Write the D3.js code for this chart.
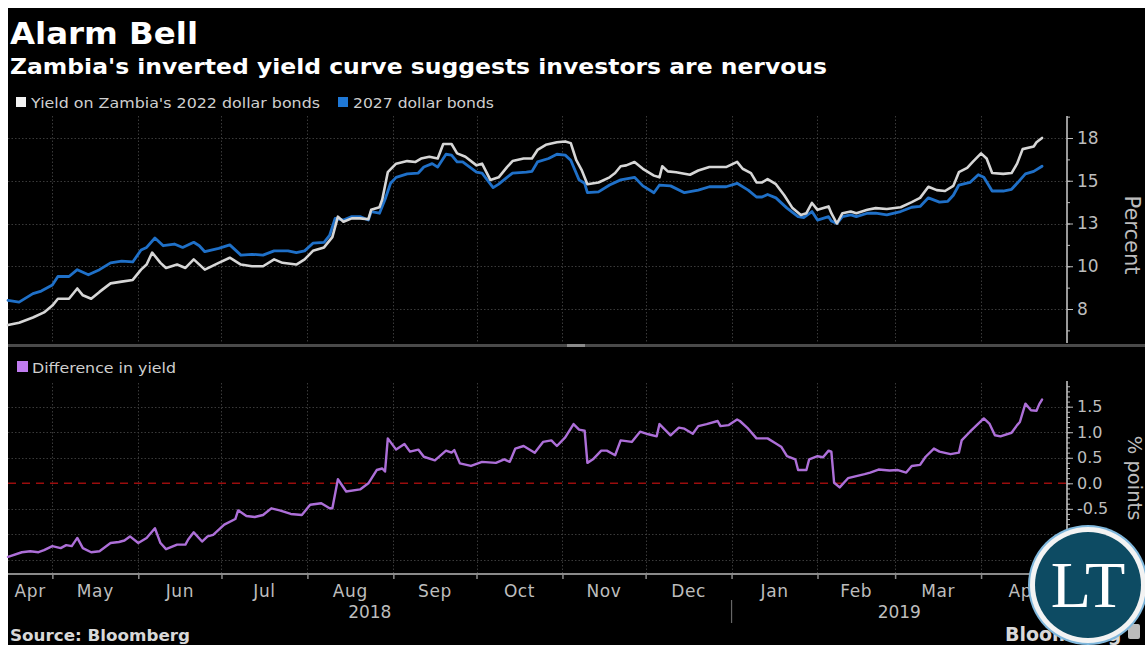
<!DOCTYPE html>
<html><head><meta charset="utf-8">
<script src="https://cdn.jsdelivr.net/npm/d3@7"></script>
<style>
html,body{margin:0;padding:0;background:#fff;}
svg{display:block;}
</style></head><body>
<svg id="c" width="1145" height="645"></svg>
<script>
// ---------- DATA ----------
const dates2022 = ["2018-04-15","2018-04-19","2018-04-24","2018-04-28","2018-05-01","2018-05-03","2018-05-07","2018-05-10","2018-05-12","2018-05-15","2018-05-18","2018-05-22","2018-05-26","2018-05-30","2018-06-02","2018-06-04","2018-06-06","2018-06-09","2018-06-11","2018-06-15","2018-06-18","2018-06-21","2018-06-25","2018-06-30","2018-07-04","2018-07-08","2018-07-12","2018-07-16","2018-07-20","2018-07-23","2018-07-28","2018-07-31","2018-08-03","2018-08-07","2018-08-10","2018-08-12","2018-08-14","2018-08-17","2018-08-20","2018-08-23","2018-08-24","2018-08-27","2018-08-28","2018-08-30","2018-09-02","2018-09-06","2018-09-09","2018-09-11","2018-09-14","2018-09-17","2018-09-19","2018-09-22","2018-09-24","2018-09-27","2018-10-01","2018-10-03","2018-10-06","2018-10-09","2018-10-12","2018-10-14","2018-10-18","2018-10-21","2018-10-23","2018-10-26","2018-10-30","2018-11-02","2018-11-04","2018-11-06","2018-11-08","2018-11-10","2018-11-14","2018-11-18","2018-11-20","2018-11-22","2018-11-24","2018-11-27","2018-11-30","2018-12-04","2018-12-06","2018-12-07","2018-12-09","2018-12-12","2018-12-17","2018-12-20","2018-12-24","2018-12-26","2018-12-30","2019-01-03","2019-01-05","2019-01-08","2019-01-10","2019-01-12","2019-01-14","2019-01-17","2019-01-20","2019-01-23","2019-01-26","2019-01-28","2019-01-30","2019-02-01","2019-02-05","2019-02-06","2019-02-08","2019-02-10","2019-02-13","2019-02-15","2019-02-19","2019-02-22","2019-02-26","2019-03-03","2019-03-07","2019-03-10","2019-03-13","2019-03-16","2019-03-19","2019-03-22","2019-03-24","2019-03-27","2019-03-29","2019-04-01","2019-04-03","2019-04-05","2019-04-09","2019-04-12","2019-04-14","2019-04-16","2019-04-20","2019-04-21","2019-04-23"];
const yield2022 = [6.56,6.7,7.0,7.3,7.7,8.1,8.1,8.7,8.3,8.1,8.5,9.0,9.1,9.2,9.8,10.1,10.8,10.2,9.9,10.1,9.9,10.4,9.8,10.2,10.5,10.1,10.0,10.0,10.4,10.2,10.1,10.4,10.9,11.1,11.7,12.9,12.6,12.8,12.8,12.75,13.3,13.45,13.9,15.5,16.0,16.15,16.1,16.3,16.4,16.3,17.15,17.15,16.6,16.4,15.9,16.0,15.05,15.2,15.8,16.15,16.3,16.3,16.8,17.1,17.25,17.3,17.2,16.2,15.6,14.8,14.9,15.2,15.45,15.85,15.9,16.1,15.7,15.3,15.2,15.85,15.55,15.5,15.35,15.6,15.8,15.8,15.8,16.1,15.7,15.45,14.9,14.9,15.1,14.8,14.15,13.4,13.0,13.1,13.7,13.3,13.5,13.1,12.5,13.1,13.2,13.1,13.3,13.4,13.35,13.45,13.75,14.0,14.65,14.45,14.4,14.7,15.5,15.75,16.1,16.6,16.3,15.45,15.4,15.45,16.0,16.85,17.0,17.25,17.5];

const dates2027 = ["2018-04-15","2018-04-19","2018-04-24","2018-04-27","2018-05-01","2018-05-03","2018-05-07","2018-05-10","2018-05-14","2018-05-18","2018-05-22","2018-05-26","2018-05-30","2018-06-02","2018-06-04","2018-06-07","2018-06-10","2018-06-14","2018-06-17","2018-06-21","2018-06-23","2018-06-25","2018-06-30","2018-07-04","2018-07-08","2018-07-12","2018-07-16","2018-07-20","2018-07-25","2018-07-28","2018-07-31","2018-08-03","2018-08-07","2018-08-09","2018-08-11","2018-08-14","2018-08-17","2018-08-20","2018-08-23","2018-08-24","2018-08-27","2018-08-29","2018-08-31","2018-09-02","2018-09-06","2018-09-10","2018-09-12","2018-09-15","2018-09-17","2018-09-20","2018-09-22","2018-09-24","2018-09-26","2018-10-01","2018-10-03","2018-10-07","2018-10-09","2018-10-12","2018-10-14","2018-10-19","2018-10-21","2018-10-23","2018-10-27","2018-10-30","2018-11-02","2018-11-04","2018-11-07","2018-11-09","2018-11-10","2018-11-14","2018-11-18","2018-11-22","2018-11-27","2018-11-30","2018-12-04","2018-12-06","2018-12-10","2018-12-15","2018-12-20","2018-12-24","2018-12-30","2019-01-03","2019-01-07","2019-01-10","2019-01-12","2019-01-14","2019-01-17","2019-01-21","2019-01-25","2019-01-27","2019-01-30","2019-02-01","2019-02-05","2019-02-06","2019-02-08","2019-02-10","2019-02-13","2019-02-15","2019-02-19","2019-02-22","2019-02-26","2019-03-03","2019-03-07","2019-03-10","2019-03-13","2019-03-17","2019-03-20","2019-03-22","2019-03-24","2019-03-28","2019-03-31","2019-04-02","2019-04-05","2019-04-09","2019-04-12","2019-04-14","2019-04-17","2019-04-20","2019-04-23"];
const yield2027 = [8.0,7.9,8.4,8.55,8.9,9.4,9.4,9.8,9.5,9.8,10.2,10.3,10.25,10.95,11.1,11.65,11.2,11.3,11.1,11.4,11.2,10.85,11.05,11.25,10.65,10.7,10.65,10.9,10.9,10.8,10.9,11.35,11.4,11.8,12.8,12.7,12.9,12.9,12.7,13.2,13.1,13.9,14.85,15.2,15.4,15.45,15.8,16.0,15.8,16.55,16.5,16.1,16.1,15.5,15.45,14.6,14.8,15.2,15.45,15.5,15.55,16.1,16.3,16.55,16.5,16.2,15.05,14.85,14.3,14.35,14.75,15.05,15.2,14.7,14.3,14.75,14.7,14.3,14.45,14.65,14.65,14.85,14.45,14.05,14.05,14.2,14.0,13.4,12.9,12.85,13.2,12.7,12.9,12.65,12.5,12.9,13.0,12.9,13.1,13.1,13.0,13.2,13.45,13.5,14.0,13.75,13.8,14.15,14.75,14.9,15.35,15.2,14.4,14.4,14.5,14.85,15.4,15.55,15.85];

const datesDiff = ["2018-04-15","2018-04-20","2018-04-23","2018-04-26","2018-04-28","2018-05-01","2018-05-04","2018-05-06","2018-05-08","2018-05-10","2018-05-12","2018-05-15","2018-05-18","2018-05-22","2018-05-25","2018-05-27","2018-05-29","2018-06-01","2018-06-04","2018-06-07","2018-06-09","2018-06-11","2018-06-15","2018-06-18","2018-06-19","2018-06-21","2018-06-24","2018-06-26","2018-06-28","2018-07-02","2018-07-06","2018-07-07","2018-07-10","2018-07-13","2018-07-16","2018-07-19","2018-07-22","2018-07-26","2018-07-30","2018-08-02","2018-08-06","2018-08-09","2018-08-10","2018-08-12","2018-08-15","2018-08-20","2018-08-23","2018-08-26","2018-08-28","2018-08-29","2018-08-30","2018-09-02","2018-09-05","2018-09-07","2018-09-10","2018-09-12","2018-09-16","2018-09-20","2018-09-22","2018-09-23","2018-09-25","2018-09-29","2018-10-03","2018-10-08","2018-10-11","2018-10-13","2018-10-15","2018-10-18","2018-10-22","2018-10-25","2018-10-28","2018-10-30","2018-11-02","2018-11-05","2018-11-07","2018-11-09","2018-11-10","2018-11-12","2018-11-15","2018-11-17","2018-11-20","2018-11-22","2018-11-26","2018-11-29","2018-12-02","2018-12-05","2018-12-06","2018-12-10","2018-12-13","2018-12-15","2018-12-18","2018-12-20","2018-12-23","2018-12-27","2018-12-28","2018-12-31","2019-01-03","2019-01-04","2019-01-07","2019-01-10","2019-01-14","2019-01-17","2019-01-19","2019-01-21","2019-01-24","2019-01-25","2019-01-28","2019-01-29","2019-02-01","2019-02-03","2019-02-05","2019-02-06","2019-02-07","2019-02-09","2019-02-12","2019-02-15","2019-02-18","2019-02-20","2019-02-23","2019-02-27","2019-03-02","2019-03-05","2019-03-07","2019-03-10","2019-03-12","2019-03-15","2019-03-17","2019-03-21","2019-03-24","2019-03-25","2019-03-28","2019-04-02","2019-04-04","2019-04-06","2019-04-08","2019-04-12","2019-04-14","2019-04-15","2019-04-17","2019-04-19","2019-04-21","2019-04-22","2019-04-23"];
const diffYield = [-1.44,-1.35,-1.33,-1.35,-1.31,-1.23,-1.27,-1.21,-1.23,-1.07,-1.27,-1.35,-1.33,-1.17,-1.15,-1.12,-1.04,-1.17,-1.07,-0.88,-1.17,-1.29,-1.20,-1.20,-1.10,-0.96,-1.14,-1.04,-1.01,-0.81,-0.70,-0.53,-0.64,-0.66,-0.62,-0.49,-0.53,-0.60,-0.62,-0.42,-0.39,-0.49,-0.49,0.08,-0.16,-0.12,0.0,0.26,0.29,0.23,0.88,0.66,0.77,0.62,0.66,0.52,0.45,0.64,0.60,0.65,0.39,0.34,0.42,0.40,0.47,0.42,0.68,0.73,0.60,0.81,0.84,0.73,0.90,1.16,1.05,1.03,0.40,0.47,0.64,0.64,0.55,0.84,0.81,1.01,0.96,0.92,1.16,0.94,1.09,1.07,0.97,1.12,1.16,1.22,1.12,1.14,1.25,1.22,1.07,0.88,0.88,0.78,0.71,0.53,0.47,0.26,0.26,0.47,0.53,0.51,0.64,0.62,0.01,-0.08,0.10,0.14,0.18,0.21,0.27,0.25,0.26,0.21,0.34,0.36,0.52,0.68,0.62,0.57,0.60,0.84,1.01,1.27,1.17,0.94,0.92,0.99,1.14,1.20,1.56,1.43,1.42,1.55,1.64];

const monthStarts = ["2018-05-01","2018-06-01","2018-07-01","2018-08-01","2018-09-01","2018-10-01","2018-11-01","2018-12-01","2019-01-01","2019-02-01","2019-03-01","2019-04-01"];
const monthLabels = ["Apr","May","Jun","Jul","Aug","Sep","Oct","Nov","Dec","Jan","Feb","Mar","Apr"];
const yearLabels = ["2018","2019"];
const yearStart2019 = "2019-01-01";
const topTicks = [7.5,10,12.5,15,17.5];
const topTickLabels = ["8","10","13","15","18"];
const bottomTicks = [-1.5,-1.0,-0.5,0,0.5,1.0,1.5];
const bottomTickLabels = ["-1.5","-1.0","-0.5","0.0","0.5","1.0","1.5"];

// ---------- DRAW ----------
const W = 1145, H = 645;
const FONT = "'DejaVu Sans', Verdana, sans-serif";
const svg = d3.select("#c");
const parse = d3.utcParse("%Y-%m-%d");

svg.append("rect").attr("x", 8).attr("y", 8).attr("width", W - 8).attr("height", H - 8).attr("fill", "#000");

const xL = 8, xR = 1067;
const x = d3.scaleUtc().domain([parse("2018-04-15"), parse("2019-05-02")]).range([xL, xR]);
const yTop = d3.scaleLinear().domain([7.5, 17.5]).range([309, 138]);
const yBot = d3.scaleLinear().domain([0, 1.5]).range([483.3, 406.7]);
const topY0 = 116, topY1 = 343, botY0 = 383, botY1 = 573;

// grid
const grid = svg.append("g").attr("stroke", "#3a3a3a").attr("stroke-width", 1).attr("stroke-dasharray", "1.5,2");
monthStarts.forEach(m => {
  const xx = Math.round(x(parse(m))) + 0.5;
  grid.append("line").attr("x1", xx).attr("x2", xx).attr("y1", topY0).attr("y2", topY1);
  grid.append("line").attr("x1", xx).attr("x2", xx).attr("y1", botY0).attr("y2", botY1);
});
topTicks.forEach(t => {
  const yy = Math.round(yTop(t)) + 0.5;
  grid.append("line").attr("x1", xL).attr("x2", xR).attr("y1", yy).attr("y2", yy);
});
bottomTicks.forEach(t => {
  if (t === 0) return;
  const yy = Math.round(yBot(t)) + 0.5;
  grid.append("line").attr("x1", xL).attr("x2", xR).attr("y1", yy).attr("y2", yy);
});

// zero line
svg.append("line").attr("x1", xL).attr("x2", xR).attr("y1", yBot(0)).attr("y2", yBot(0))
  .attr("stroke", "#9a0d0d").attr("stroke-width", 1.6).attr("stroke-dasharray", "8,6");

// panel separator
svg.append("rect").attr("x", xL).attr("y", 344).attr("width", W - xL).attr("height", 3).attr("fill", "#4a4a4a");
svg.append("rect").attr("x", 567).attr("y", 344).attr("width", 18).attr("height", 3).attr("fill", "#8a8a8a");

// lines
const lineTop = d3.line().x(d => x(d[0])).y(d => yTop(d[1])).curve(d3.curveLinear);
const lineBot = d3.line().x(d => x(d[0])).y(d => yBot(d[1])).curve(d3.curveLinear);
const s2022 = dates2022.map((d, i) => [parse(d), yield2022[i]]);
const s2027 = dates2027.map((d, i) => [parse(d), yield2027[i]]);
const sDiff = datesDiff.map((d, i) => [parse(d), diffYield[i]]);

svg.append("path").datum(s2027).attr("d", lineTop).attr("fill", "none")
  .attr("stroke", "#1f70c8").attr("stroke-width", 2.8).attr("stroke-linejoin", "round").attr("stroke-linecap", "round");
svg.append("path").datum(s2022).attr("d", lineTop).attr("fill", "none")
  .attr("stroke", "#d6d6d6").attr("stroke-width", 2.6).attr("stroke-linejoin", "round").attr("stroke-linecap", "round");
svg.append("path").datum(sDiff).attr("d", lineBot).attr("fill", "none")
  .attr("stroke", "#ad6fd8").attr("stroke-width", 2.4).attr("stroke-linejoin", "round").attr("stroke-linecap", "round");

// right axes
const axCol = "#bdbdbd";
function styleAxis(g) {
  g.select(".domain").remove();
  g.selectAll("line").attr("stroke", axCol);
  g.selectAll("text").attr("fill", axCol).attr("font-family", FONT);
}
svg.append("line").attr("x1", xR).attr("x2", xR).attr("y1", topY0).attr("y2", topY1).attr("stroke", "#9a9a9a").attr("stroke-width", 2);
svg.append("line").attr("x1", xR).attr("x2", xR).attr("y1", botY0 - 2).attr("y2", botY1).attr("stroke", "#9a9a9a").attr("stroke-width", 2);

const minorTop = d3.range(6.25, 18.8, 1.25).filter(v => yTop(v) >= topY0 && yTop(v) <= topY1);
svg.append("g").attr("transform", `translate(${xR},0)`)
  .call(d3.axisRight(yTop).tickValues(minorTop).tickSize(3).tickFormat(""))
  .call(styleAxis);
svg.append("g").attr("transform", `translate(${xR},0)`)
  .call(d3.axisRight(yTop).tickValues(topTicks).tickSize(6).tickPadding(4).tickFormat((d, i) => topTickLabels[i]))
  .call(styleAxis)
  .selectAll("text").attr("font-size", 17);

const minorBot = d3.range(-18, 20, 1).map(v => v / 10).filter(v => yBot(v) >= botY0 && yBot(v) <= botY1 - 2);
svg.append("g").attr("transform", `translate(${xR},0)`)
  .call(d3.axisRight(yBot).tickValues(minorBot).tickSize(3).tickFormat(""))
  .call(styleAxis);
svg.append("g").attr("transform", `translate(${xR},0)`)
  .call(d3.axisRight(yBot).tickValues(bottomTicks).tickSize(6).tickPadding(4).tickFormat((d, i) => bottomTickLabels[i]))
  .call(styleAxis)
  .selectAll("text").attr("font-size", 16);

svg.append("text").attr("transform", "translate(1125,235) rotate(90)").attr("text-anchor", "middle")
  .attr("font-family", FONT).attr("font-size", 21).attr("fill", axCol).text("Percent");
svg.append("text").attr("transform", "translate(1128,478) rotate(90)").attr("text-anchor", "middle")
  .attr("font-family", FONT).attr("font-size", 19.5).attr("fill", axCol).text("% points");

// x axis
svg.append("line").attr("x1", xL).attr("x2", W).attr("y1", botY1 + 1).attr("y2", botY1 + 1).attr("stroke", "#8a8a8a").attr("stroke-width", 2.2);
const xg = svg.append("g").attr("transform", `translate(0,${botY1 + 1})`)
  .call(d3.axisBottom(x).tickValues(monthStarts.map(parse)).tickSize(5).tickFormat(""));
xg.select(".domain").remove();
xg.selectAll("line").attr("stroke", "#8a8a8a").attr("stroke-width", 1.5);

const bounds = [x.domain()[0], ...monthStarts.map(parse), x.domain()[1]];
monthLabels.forEach((m, i) => {
  const cx = (x(bounds[i]) + x(bounds[i + 1])) / 2;
  svg.append("text").attr("x", cx).attr("y", 597).attr("text-anchor", "middle")
    .attr("font-family", FONT).attr("font-size", 17).attr("letter-spacing", 0.6).attr("fill", axCol).text(m);
});
const yb = [x.domain()[0], parse(yearStart2019), x.domain()[1]];
yearLabels.forEach((yl, i) => {
  const cx = (x(yb[i]) + x(yb[i + 1])) / 2;
  svg.append("text").attr("x", cx).attr("y", 618).attr("text-anchor", "middle")
    .attr("font-family", FONT).attr("font-size", 17).attr("fill", axCol).text(yl);
});
svg.append("line").attr("x1", x(parse(yearStart2019))).attr("x2", x(parse(yearStart2019)))
  .attr("y1", 600).attr("y2", 623).attr("stroke", "#666").attr("stroke-width", 1.2);

// titles
svg.append("text").attr("x", 10).attr("y", 44).attr("font-family", FONT).attr("font-weight", "bold")
  .attr("font-size", 31).attr("textLength", 188).attr("lengthAdjust", "spacingAndGlyphs").attr("fill", "#fff").text("Alarm Bell");
svg.append("text").attr("x", 10).attr("y", 74).attr("font-family", FONT).attr("font-weight", "bold")
  .attr("font-size", 21.5).attr("textLength", 817).attr("lengthAdjust", "spacingAndGlyphs").attr("fill", "#fff").text("Zambia's inverted yield curve suggests investors are nervous");

// legends
svg.append("rect").attr("x", 16).attr("y", 97).attr("width", 10).attr("height", 10).attr("fill", "#f2f2f2");
svg.append("text").attr("x", 31).attr("y", 108).attr("font-family", FONT).attr("font-size", 14)
  .attr("textLength", 289).attr("lengthAdjust", "spacingAndGlyphs").attr("fill", "#cfcfcf").text("Yield on Zambia's 2022 dollar bonds");
svg.append("rect").attr("x", 338).attr("y", 97).attr("width", 10).attr("height", 10).attr("fill", "#1f78d6");
svg.append("text").attr("x", 353).attr("y", 108).attr("font-family", FONT).attr("font-size", 14)
  .attr("textLength", 141).attr("lengthAdjust", "spacingAndGlyphs").attr("fill", "#cfcfcf").text("2027 dollar bonds");
svg.append("rect").attr("x", 17).attr("y", 361).attr("width", 11).attr("height", 11).attr("fill", "#c07cf0");
svg.append("text").attr("x", 32).attr("y", 372.5).attr("font-family", FONT).attr("font-size", 14)
  .attr("textLength", 144).attr("lengthAdjust", "spacingAndGlyphs").attr("fill", "#cfcfcf").text("Difference in yield");

// source / brand
svg.append("text").attr("x", 10).attr("y", 641).attr("font-family", FONT).attr("font-weight", "bold")
  .attr("font-size", 16).attr("textLength", 180).attr("lengthAdjust", "spacingAndGlyphs").attr("fill", "#d8d8d8").text("Source: Bloomberg");
svg.append("text").attr("x", 1005).attr("y", 641).attr("font-family", FONT).attr("font-weight", "bold")
  .attr("font-size", 19).attr("fill", "#d8d8d8").text("Bloomberg");
svg.append("rect").attr("x", 1128).attr("y", 624).attr("width", 12).attr("height", 15).attr("rx", 2).attr("fill", "#bbb");

// watermark logo
const lg = svg.append("g").attr("transform", "translate(1088,585)");
lg.append("circle").attr("r", 60).attr("fill", "#7fb7dc");
lg.append("circle").attr("r", 58).attr("fill", "#f3f3f3");
lg.append("circle").attr("r", 53).attr("fill", "#0d4b63");
lg.append("text").attr("x", 0).attr("y", 22).attr("text-anchor", "middle")
  .attr("font-family", "'Liberation Serif', 'DejaVu Serif', serif").attr("font-size", 66).attr("fill", "#fff").text("LT");
</script>
</body></html>
